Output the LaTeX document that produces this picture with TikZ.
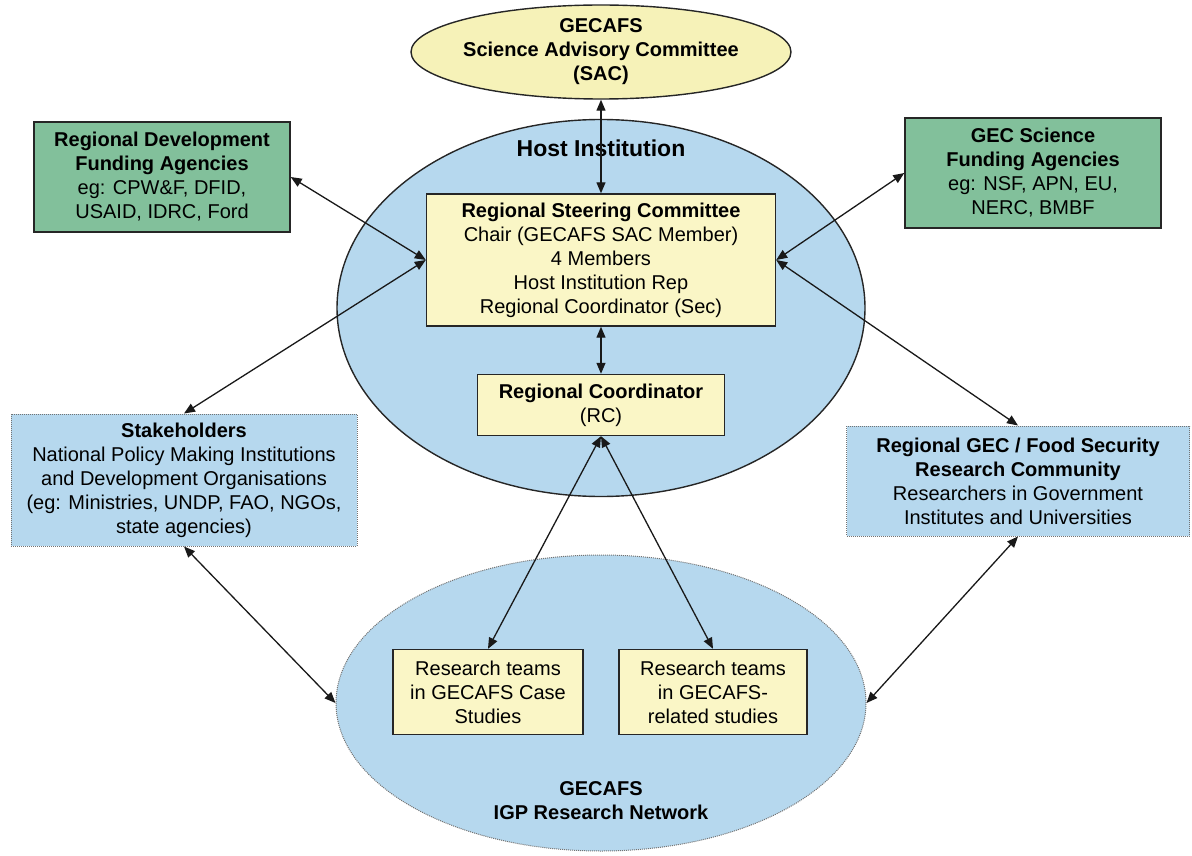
\documentclass[tikz,border=0pt]{standalone}
\usepackage{fontspec}
\setmainfont{Liberation Sans}
\usetikzlibrary{shapes.geometric,arrows.meta}

\definecolor{boxyellow}{RGB}{250,246,198}
\definecolor{sacyellow}{RGB}{246,242,184}
\definecolor{fundgreen}{RGB}{130,192,155}
\definecolor{netblue}{RGB}{182,216,238}

\tikzstyle{block} = [rectangle, draw=black!85, line width=1.4pt, fill=boxyellow,
    align=center, inner sep=0pt, font=\fontsize{20}{24}\selectfont]
\tikzstyle{fund} = [block, fill=fundgreen, minimum width=256pt, minimum height=110pt]
\tikzstyle{outer} = [draw=black!55, line width=1pt, dash pattern=on 1pt off 1pt]
\tikzstyle{region} = [ellipse, draw=black!85, line width=1.4pt, fill=netblue, inner sep=0pt]
\tikzstyle{title} = [align=center, font=\fontsize{20}{24}\selectfont\bfseries]
\tikzstyle{line} = [draw, line width=1.3pt, color=black!90,
    {Triangle[length=11pt,width=9pt]}-{Triangle[length=11pt,width=9pt]}]

\begin{document}
\begin{tikzpicture}[x=1pt, y=-1pt]
	\useasboundingbox (0,0) rectangle (1192,856);
	% Ellipses
	\node [region, minimum width=528pt, minimum height=377pt] (Host) at (601,308) {};
	\node [region, outer, minimum width=530pt, minimum height=296pt] (Network) at (601,703) {};
	\node [region, fill=sacyellow, minimum width=380pt, minimum height=94pt] (SAC) at (601,52) {};
	\node [title] (SACLabel) at (SAC) {GECAFS\\Science Advisory Committee\\(SAC)};
	\node [title, font=\fontsize{23}{27}\selectfont\bfseries] (HostLabel) at (601,148) {Host Institution};
	\node [title] (NetworkLabel) at (601,801) {GECAFS\\IGP Research Network};

	% Nodes
	\node [fund] (Development) at (162,177) {\textbf{Regional Development}\\\textbf{Funding Agencies}\\eg: CPW\&F, DFID,\\USAID, IDRC, Ford};
	\node [fund] (Science) at (1033,173) {\textbf{GEC Science}\\\textbf{Funding Agencies}\\eg: NSF, APN, EU,\\NERC, BMBF};
	\node [block, minimum width=349pt, minimum height=132pt] (Steering) at (601,260) {\textbf{Regional Steering Committee}\\Chair (GECAFS SAC Member)\\4 Members\\Host Institution Rep\\Regional Coordinator (Sec)};
	\node [block, minimum width=247pt, minimum height=61pt] (Coordinator) at (601,405) {\textbf{Regional Coordinator}\\(RC)};
	\node [block, outer, fill=netblue, minimum width=346pt, minimum height=132pt] (Stakeholders) at (184,480) {\textbf{Stakeholders}\\National Policy Making Institutions\\and Development Organisations\\(eg: Ministries, UNDP, FAO, NGOs,\\state agencies)};
	\node [block, outer, fill=netblue, minimum width=343pt, minimum height=110pt] (Community) at (1018,481) {\textbf{Regional GEC / Food Security}\\\textbf{Research Community}\\Researchers in Government\\Institutes and Universities};
	\node [block, minimum width=190pt, minimum height=85pt] (TeamsCase) at (488,692) {Research teams\\in GECAFS Case\\Studies};
	\node [block, minimum width=188pt, minimum height=85pt] (TeamsRelated) at (713,692) {Research teams\\in GECAFS-\\related studies};

	% Arrows
	\path [line] (SAC) -- (Steering);
	\path [line] (Development.east) -- (Steering.west);
	\path [line] (Stakeholders.north) -- (Steering.west);
	\path [line] (Science.west) -- (Steering.east);
	\path [line] (Community.north) -- (Steering.east);
	\path [line] (Steering) -- (Coordinator);
	\path [line] (Coordinator.south) -- (TeamsCase.north);
	\path [line] (Coordinator.south) -- (TeamsRelated.north);
	\path [line] (Stakeholders.south) -- (Network.west);
	\path [line] (Community.south) -- (Network.east);

\end{tikzpicture}
\end{document}
